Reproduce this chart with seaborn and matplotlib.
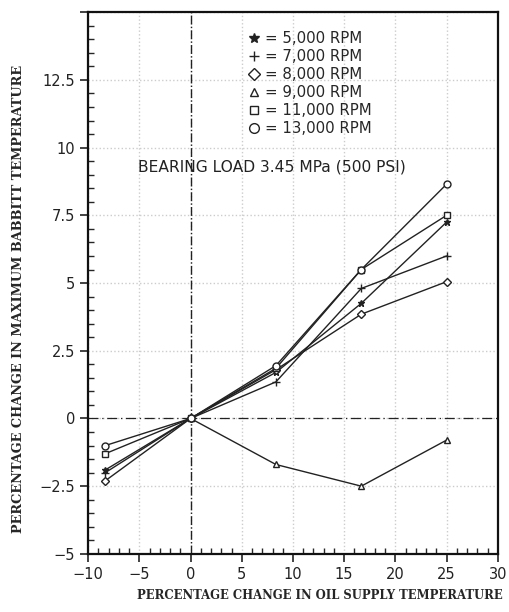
################################################################################
# modules/packages
################################################################################

import matplotlib
matplotlib.use('Agg')
import matplotlib.pyplot as plt
from matplotlib.lines import Line2D
from matplotlib.ticker import MultipleLocator, FuncFormatter
import pandas as pd
import seaborn as sns

################################################################################
# data
################################################################################

oil_change = [-8.33, 0, 8.33, 16.67, 25]

rpm_5000 = [-1.9, 0, 1.7, 4.25, 7.25]
rpm_7000 = [-2.0, 0, 1.35, 4.8, 6.0]
rpm_8000 = [-2.3, 0, 1.8, 3.85, 5.05]
rpm_9000 = [None, 0, -1.7, -2.5, -0.8]
rpm_11000 = [-1.3, 0, 1.85, 5.5, 7.5]
rpm_13000 = [-1.0, 0, 1.95, 5.5, 8.65]

series_names = ['5,000 RPM', '7,000 RPM', '8,000 RPM',
                '9,000 RPM', '11,000 RPM', '13,000 RPM']
series_values = [rpm_5000, rpm_7000, rpm_8000, rpm_9000, rpm_11000, rpm_13000]
markers = ['*', '+', 'D', '^', 's', 'o']

################################################################################
# plot
################################################################################

rows = []
for name, vals in zip(series_names, series_values):
    for x, y in zip(oil_change, vals):
        if y is not None:
            rows.append({'x': x, 'y': y, 'series': name})
df = pd.DataFrame(rows)

sns.set_style('white')
fig = plt.figure(figsize=(5.1, 6.12), dpi=100)
ax = fig.add_axes([0.173, 0.095, 0.803, 0.885])

msize = {'*': 5, '+': 5.5, 'D': 4, '^': 4, 's': 4, 'o': 5}
for name, m in zip(series_names, markers):
    sns.lineplot(data=df[df['series'] == name], x='x', y='y', ax=ax,
                 color='#222222', linewidth=1.0, marker=m, markersize=msize[m],
                 markerfacecolor='white' if m not in '*+' else '#222222',
                 markeredgecolor='#222222', markeredgewidth=1.0,
                 sort=False, legend=False)

ax.axvline(0, color='#222222', linestyle='-.', linewidth=1.0, zorder=1)
ax.axhline(0, color='#222222', linestyle=(0, (8, 3, 1, 3)), linewidth=0.9, zorder=1)

ax.set_xlim(-10, 30)
ax.set_ylim(-5, 15)
ax.xaxis.set_major_locator(MultipleLocator(5))
ax.xaxis.set_minor_locator(MultipleLocator(1))
ax.yaxis.set_major_locator(MultipleLocator(2.5))
ax.yaxis.set_minor_locator(MultipleLocator(0.5))
ax.yaxis.set_major_formatter(FuncFormatter(lambda v, p: '' if v > 13 else f'{v:g}'.replace('-', '\u2212')))
ax.xaxis.set_major_formatter(FuncFormatter(lambda v, p: f'{v:g}'.replace('-', '\u2212')))

ax.grid(True, which='major', color='#cccccc', linestyle=':', linewidth=1.0)
ax.tick_params(which='major', direction='out', length=6, width=1.2, labelsize=10.5,
               colors='#222222', bottom=True, left=True)
ax.tick_params(which='minor', direction='in', length=4, width=1.0,
               bottom=True, left=True)
for s in ax.spines.values():
    s.set_color('#111111')
    s.set_linewidth(1.6)

ax.set_xlabel('PERCENTAGE CHANGE IN OIL SUPPLY TEMPERATURE',
              family='DejaVu Serif', fontweight='bold', fontsize=8.4)
ax.xaxis.set_label_coords(0.565, -0.065)
ax.set_ylabel('PERCENTAGE CHANGE IN MAXIMUM BABBITT TEMPERATURE',
              family='DejaVu Serif', fontweight='bold', fontsize=9.3)
ax.yaxis.set_label_coords(-0.155, 0.47)

ax.text(7.9, 9.3, 'BEARING LOAD 3.45 MPa (500 PSI)', ha='center', va='center',
        fontsize=11.2, color='#222222')

handles = [Line2D([], [], linestyle='none', marker=m, color='#222222',
                  markerfacecolor='white' if m not in '*+' else '#222222',
                  markersize=msize[m] + 2, markeredgewidth=1.0)
           for m in markers]
labels = ['= ' + n for n in series_names]
ax.legend(handles, labels, loc='upper left', bbox_to_anchor=(0.365, 0.985),
          frameon=False, fontsize=10.8, handlelength=0.8, handletextpad=0.3,
          labelspacing=0.2, borderpad=0.2)

fig.savefig('out.png', dpi=100)
